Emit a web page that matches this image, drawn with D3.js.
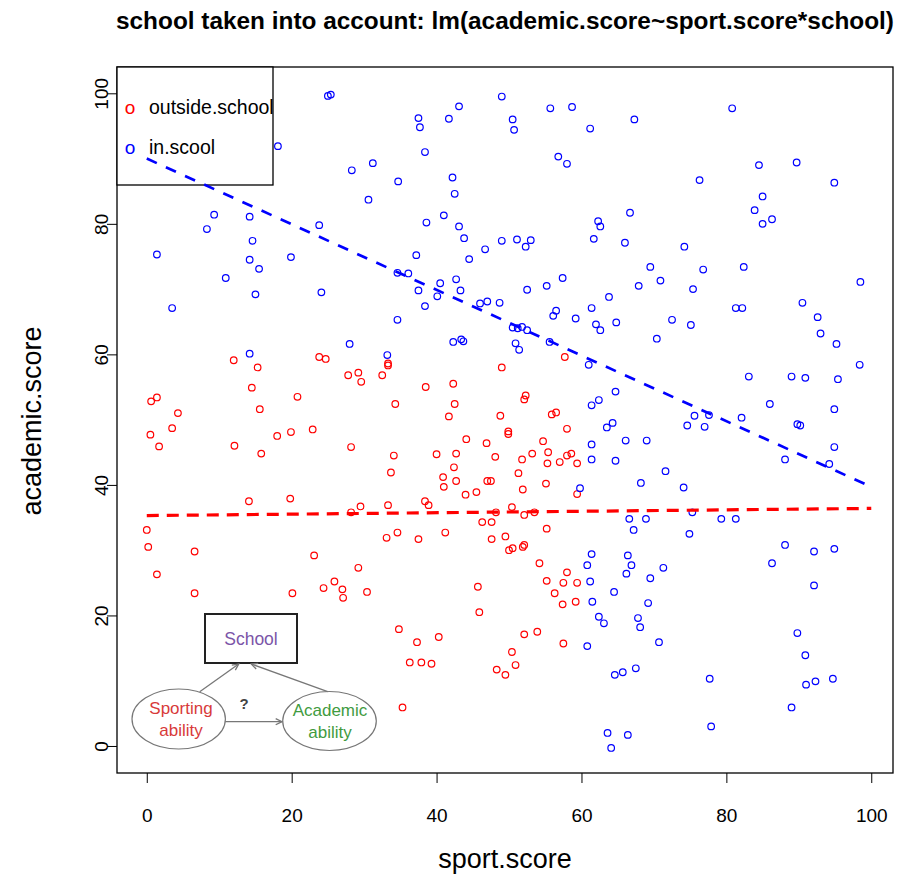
<!DOCTYPE html>
<html lang="en">
<head>
<meta charset="UTF-8">
<title>school taken into account</title>
<script src="https://cdn.jsdelivr.net/npm/d3@7"></script>
<style>
  body { margin: 0; background: #fff; }
  text { font-family: "Liberation Sans", Arial, sans-serif; }
</style>
</head>
<body>
<script>
// values
var outsideSport = [12.0, 15.3, 23.8, 24.7, 27.8, 29.2, 29.6, 14.5, 20.8, 1.4, 0.6, 15.6, 4.3, 3.5, 0.5, 1.7, 18.0, 19.9, 22.9, 12.1, 15.8, 28.2, 14.1, 19.8, 29.5, 28.2, 0.0,
    33.3, 33.3, 32.5, 49.0, 57.7, 38.5, 42.3, 34.3, 42.5, 41.7,
    48.8, 52.3, 52.1, 55.9, 56.5, 58.0, 49.9, 49.9, 44.1, 46.9,
    54.7, 55.4, 34.1, 40.0, 42.7, 48.1, 51.8, 53.2, 58.6, 58.0,
    57.0, 59.4, 55.3, 33.7, 42.4, 51.3, 40.9, 42.7, 41.0, 47.0,
    47.5, 55.1, 51.9, 44.0, 45.5, 59.4, 33.3, 38.4, 38.9, 48.2,
    50.4, 52.1, 53.5, 46.3, 47.6, 34.6, 41.2, 55.2,
    0.2, 6.6, 1.4, 6.6, 23.1, 29.2, 25.9, 24.4, 27.0, 27.1, 30.4, 20.1,
    33.1, 37.5, 47.6, 49.5, 50.0, 50.5, 51.9, 52.1, 54.2, 58.0, 55.2, 57.5, 59.4, 56.3, 57.4, 59.2,
    45.7, 45.9, 34.8, 37.3, 40.3, 36.3, 37.9, 39.3, 52.1, 53.9, 57.5, 50.4, 50.9, 48.3, 49.5, 35.3];
var outsideAcademic = [59.1, 58.0, 59.6, 59.3, 56.8, 57.2, 55.8, 54.9, 53.5, 53.4, 52.8, 51.6, 51.0, 48.7, 47.7, 45.9, 47.5, 48.1, 48.5, 46.0, 44.8, 45.8, 37.5, 37.9, 36.7, 35.8, 33.1,
    58.6, 58.3, 56.8, 58.0, 59.6, 55.0, 55.5, 52.4, 52.4, 50.5,
    50.6, 53.7, 53.1, 50.8, 51.1, 48.6, 48.2, 47.8, 47.0, 46.4,
    46.7, 45.0, 44.5, 44.7, 44.8, 44.3, 43.9, 44.8, 44.8, 44.5,
    43.5, 43.3, 43.3, 41.9, 42.7, 41.8, 41.2, 40.6, 39.7, 40.6,
    40.6, 40.2, 39.3, 38.5, 38.9, 38.6, 36.9, 37.5, 36.9, 35.8,
    36.6, 35.4, 35.8, 34.3, 34.3, 32.7, 32.7, 33.3,
    30.5, 29.8, 26.3, 23.4, 29.2, 27.3, 25.2, 24.2, 24.0, 22.7, 23.6, 23.4,
    31.9, 31.7, 31.7, 32.1, 30.0, 30.3, 30.5, 30.8, 28.0, 26.6, 25.3, 25.0, 25.0, 23.4, 21.7, 22.1,
    24.4, 20.5, 17.9, 15.9, 16.7, 12.8, 12.8, 12.6, 17.1, 17.5, 15.7, 14.4, 12.4, 11.7, 10.9, 5.9];

var inSport = [25.0, 25.4, 18.1, 28.3, 31.2, 30.6, 9.3, 14.2, 23.8, 8.3, 14.6, 1.4, 19.9, 14.2, 15.5, 10.9, 15.0, 24.1,
    49.0, 43.1, 37.5, 37.7, 41.7, 50.5, 50.7, 55.7, 58.7, 61.2,
    67.3, 38.4, 56.8, 58.0, 34.7, 42.2, 42.5, 66.7, 41.0, 38.6,
    43.1, 43.8, 62.3, 62.6, 61.7, 66.0, 49.0, 51.1, 53.0, 52.3,
    46.7, 37.2, 44.5, 34.6, 36.1, 40.5, 42.7, 37.5, 43.3, 40.1,
    52.5, 55.2, 57.4, 63.8, 67.9,
    80.8, 84.5, 89.7, 76.3, 94.9, 85.0, 83.9, 85.0, 86.3, 74.2, 69.5, 76.8, 82.4, 70.9, 75.4, 98.5, 90.5,
    3.5, 14.2, 28.0,
    46.0, 47.0, 48.7, 38.4, 34.6, 56.5, 56.1, 59.2, 61.4, 62.0,
    62.6, 64.8, 50.5, 51.2, 51.8, 52.5, 42.3, 43.4, 43.7, 50.9,
    51.4, 55.6, 33.2, 61.0, 64.7, 62.4, 61.4, 64.3, 63.5, 66.1,
    61.4, 61.4, 64.7, 59.8, 66.6, 67.2,
    81.3, 82.2, 72.5, 75.1, 70.4, 92.6, 93.0, 95.2, 98.4, 83.1,
    89.0, 90.9, 95.4, 86.0, 94.9, 75.6, 77.6, 82.1, 74.6, 77.0,
    89.8, 90.2, 69.0, 94.9, 88.1, 94.2, 71.6, 68.2, 74.1, 75.3,
    68.9, 79.3, 81.3, 74.9,
    61.4, 60.8, 61.2, 61.5, 62.4, 63.1, 64.5, 60.8, 66.4, 66.9, 66.2, 67.5, 64.6, 65.7, 63.6, 66.4, 64.1,
    88.1, 92.1, 94.9, 86.3, 71.3, 69.5, 69.2, 67.8, 68.1, 70.7, 92.1, 89.8, 90.9, 77.7, 91.0, 92.3, 94.7, 89.0, 77.9];
var inAcademic = [99.6, 99.8, 91.9, 88.2, 89.3, 83.7, 81.4, 81.1, 79.8, 79.2, 77.4, 75.3, 74.9, 74.5, 73.1, 71.7, 69.2, 69.5,
    99.5, 98.0, 96.2, 94.8, 96.1, 96.0, 94.4, 97.7, 97.9, 94.6,
    96.0, 91.0, 90.3, 89.2, 86.5, 87.1, 84.6, 81.7, 81.3, 80.2,
    79.6, 77.8, 80.4, 79.6, 77.7, 77.1, 77.4, 77.6, 77.5, 76.5,
    76.1, 75.2, 74.6, 72.5, 72.4, 70.9, 71.5, 69.8, 69.8, 68.9,
    69.9, 70.5, 71.7, 68.8, 70.5,
    97.7, 89.0, 89.4, 86.7, 86.3, 84.2, 82.1, 80.0, 80.7, 76.5, 73.4, 73.0, 73.4, 71.3, 70.0, 71.1, 67.9,
    67.1, 60.1, 61.6,
    67.8, 68.1, 67.9, 67.4, 65.3, 66.7, 65.9, 65.5, 67.1, 64.6,
    63.7, 64.9, 64.1, 64.0, 64.2, 63.7, 61.9, 62.3, 62.0, 61.7,
    60.7, 61.9, 59.9, 58.4, 54.3, 53.0, 52.2, 49.5, 48.8, 46.8,
    46.2, 43.9, 43.7, 39.5, 34.8, 33.1,
    67.1, 67.1, 65.3, 64.5, 62.4, 65.7, 63.2, 61.6, 58.4, 56.6,
    56.6, 56.4, 56.2, 52.4, 51.6, 50.6, 50.7, 50.3, 49.1, 48.9,
    49.3, 49.1, 46.8, 45.8, 43.9, 43.2, 42.1, 40.3, 39.6, 35.8,
    34.8, 34.8, 34.8, 32.5,
    29.4, 27.7, 25.2, 22.1, 19.8, 18.8, 23.6, 15.3, 29.2, 27.7, 26.4, 11.9, 10.9, 11.3, 2.0, 1.7, -0.3,
    30.8, 29.8, 30.2, 28.0, 27.3, 25.7, 21.9, 19.6, 18.2, 15.9, 24.6, 17.3, 13.9, 10.3, 9.4, 9.9, 10.3, 5.9, 3.0];

// fitted lines, end points
var fitSport = [0, 100];
var outsideFit = [35.3, 36.4];
var inFit = [90.0, 39.7];

var xTicks = [0, 20, 40, 60, 80, 100];
var yTicks = [0, 20, 40, 60, 80, 100];
var legendLabels = ["outside.school", "in.scool"];
var groupColors = ["#ff0000", "#0000ff"];

var w = 906, h = 875;
var svg = d3.select("body").append("svg").attr("width", w).attr("height", h);

var x = d3.scaleLinear().domain([-4.11, 103.0]).range([117, 893]);
var y = d3.scaleLinear().domain([-4.14, 104.03]).range([773, 67]);

// points
function drawPoints(xs, ys, col) {
    svg.append("g").selectAll("circle")
        .data(xs.map(function(d, i) { return [d, ys[i]]; }))
        .enter().append("circle")
        .attr("cx", function(d) { return x(d[0]); })
        .attr("cy", function(d) { return y(d[1]); })
        .attr("r", 3.3)
        .attr("fill", "none")
        .attr("stroke", col)
        .attr("stroke-width", 1.2);
}
drawPoints(outsideSport, outsideAcademic, groupColors[0]);
drawPoints(inSport, inAcademic, groupColors[1]);

// axes
var xAxis = svg.append("g").attr("transform", "translate(0,773)")
    .call(d3.axisBottom(x).tickValues(xTicks).tickSize(10).tickFormat(d3.format("d")));
xAxis.select(".domain").remove();
xAxis.selectAll("line").attr("stroke", "#000");
xAxis.selectAll("text").attr("y", 49).attr("dy", null)
    .attr("font-size", 19).attr("fill", "#000").attr("font-family", "Liberation Sans, Arial, sans-serif");

var yAxis = svg.append("g").attr("transform", "translate(117,0)")
    .call(d3.axisLeft(y).tickValues(yTicks).tickSize(10).tickFormat(d3.format("d")));
yAxis.select(".domain").remove();
yAxis.selectAll("line").attr("stroke", "#000");
yAxis.selectAll("text").attr("x", null).attr("dy", null)
    .attr("transform", "translate(-9,0) rotate(-90)")
    .attr("text-anchor", "middle")
    .attr("font-size", 19).attr("fill", "#000").attr("font-family", "Liberation Sans, Arial, sans-serif");

// box
svg.append("rect").attr("x", 117).attr("y", 67).attr("width", 776).attr("height", 706)
    .attr("fill", "none").attr("stroke", "#000").attr("stroke-width", 1.3);

// legend
var leg = svg.append("g");
leg.append("rect").attr("x", 117).attr("y", 67).attr("width", 156).attr("height", 118)
    .attr("fill", "#fff").attr("stroke", "#000").attr("stroke-width", 1.3);
legendLabels.forEach(function(lab, i) {
    leg.append("text").attr("x", 130).attr("y", 114 + i * 40).attr("text-anchor", "middle")
        .attr("font-size", 19).attr("fill", groupColors[i]).text("o");
    leg.append("text").attr("x", 149).attr("y", 114 + i * 40)
        .attr("font-size", 19.5).attr("fill", "#000").text(lab);
});

// fitted lines
var line = d3.line().x(function(d) { return x(d[0]); }).y(function(d) { return y(d[1]); });
svg.append("path").datum(fitSport.map(function(d, i) { return [d, outsideFit[i]]; }))
    .attr("d", line).attr("fill", "none").attr("stroke", "#ff0000")
    .attr("stroke-width", 3.2).attr("stroke-dasharray", "12,8");
svg.append("path").datum(fitSport.map(function(d, i) { return [d, inFit[i]]; }))
    .attr("d", line).attr("fill", "none").attr("stroke", "#0000ff")
    .attr("stroke-width", 2.7).attr("stroke-dasharray", "11,10");

// titles
svg.append("text").attr("x", 505).attr("y", 29).attr("text-anchor", "middle")
    .attr("font-size", 24.4).attr("font-weight", "bold").attr("fill", "#000")
    .attr("textLength", 778).attr("lengthAdjust", "spacingAndGlyphs")
    .text("school taken into account: lm(academic.score~sport.score*school)");
svg.append("text").attr("x", 505).attr("y", 868).attr("text-anchor", "middle")
    .attr("font-size", 27).attr("fill", "#000").text("sport.score");
svg.append("text").attr("transform", "translate(41,421) rotate(-90)").attr("text-anchor", "middle")
    .attr("font-size", 27).attr("fill", "#000").text("academic.score");

// inset diagram (bottom left)
var dg = svg.append("g");
var grey = "#777";
dg.append("rect").attr("x", 205).attr("y", 614).attr("width", 92).attr("height", 49)
    .attr("fill", "#fff").attr("stroke", "#222").attr("stroke-width", 2);
dg.append("text").attr("x", 251).attr("y", 645).attr("text-anchor", "middle")
    .attr("font-size", 17.5).attr("fill", "#7b55a8").text("School");
dg.append("ellipse").attr("cx", 178.7).attr("cy", 719).attr("rx", 46.7).attr("ry", 30)
    .attr("fill", "#fff").attr("stroke", grey).attr("stroke-width", 1.2);
dg.append("ellipse").attr("cx", 329.5).attr("cy", 721).attr("rx", 46.8).attr("ry", 29.5)
    .attr("fill", "#fff").attr("stroke", grey).attr("stroke-width", 1.2);
dg.append("text").attr("x", 181).attr("y", 714).attr("text-anchor", "middle")
    .attr("font-size", 17).attr("fill", "#d83a3a").text("Sporting");
dg.append("text").attr("x", 181).attr("y", 736).attr("text-anchor", "middle")
    .attr("font-size", 17).attr("fill", "#d83a3a").text("ability");
dg.append("text").attr("x", 330).attr("y", 716).attr("text-anchor", "middle")
    .attr("font-size", 17).attr("fill", "#3f9b3f").text("Academic");
dg.append("text").attr("x", 330).attr("y", 738).attr("text-anchor", "middle")
    .attr("font-size", 17).attr("fill", "#3f9b3f").text("ability");
dg.append("text").attr("x", 244).attr("y", 709).attr("text-anchor", "middle")
    .attr("font-size", 15).attr("font-weight", "bold").attr("fill", "#444").text("?");

function arrow(x1, y1, x2, y2) {
    dg.append("line").attr("x1", x1).attr("y1", y1).attr("x2", x2).attr("y2", y2)
        .attr("stroke", grey).attr("stroke-width", 1.3);
    var a = Math.atan2(y2 - y1, x2 - x1), s = 7;
    var p = [[x2 - s * Math.cos(a - 0.45), y2 - s * Math.sin(a - 0.45)], [x2, y2],
             [x2 - s * Math.cos(a + 0.45), y2 - s * Math.sin(a + 0.45)]];
    dg.append("polyline").attr("points", p.map(function(q) { return q.join(","); }).join(" "))
        .attr("fill", "none").attr("stroke", grey).attr("stroke-width", 1.3);
}
arrow(199.7, 691.7, 238.7, 664);
arrow(327.7, 691.7, 251.3, 664);
arrow(225.3, 721.7, 282, 721.7);
</script>
</body>
</html>
